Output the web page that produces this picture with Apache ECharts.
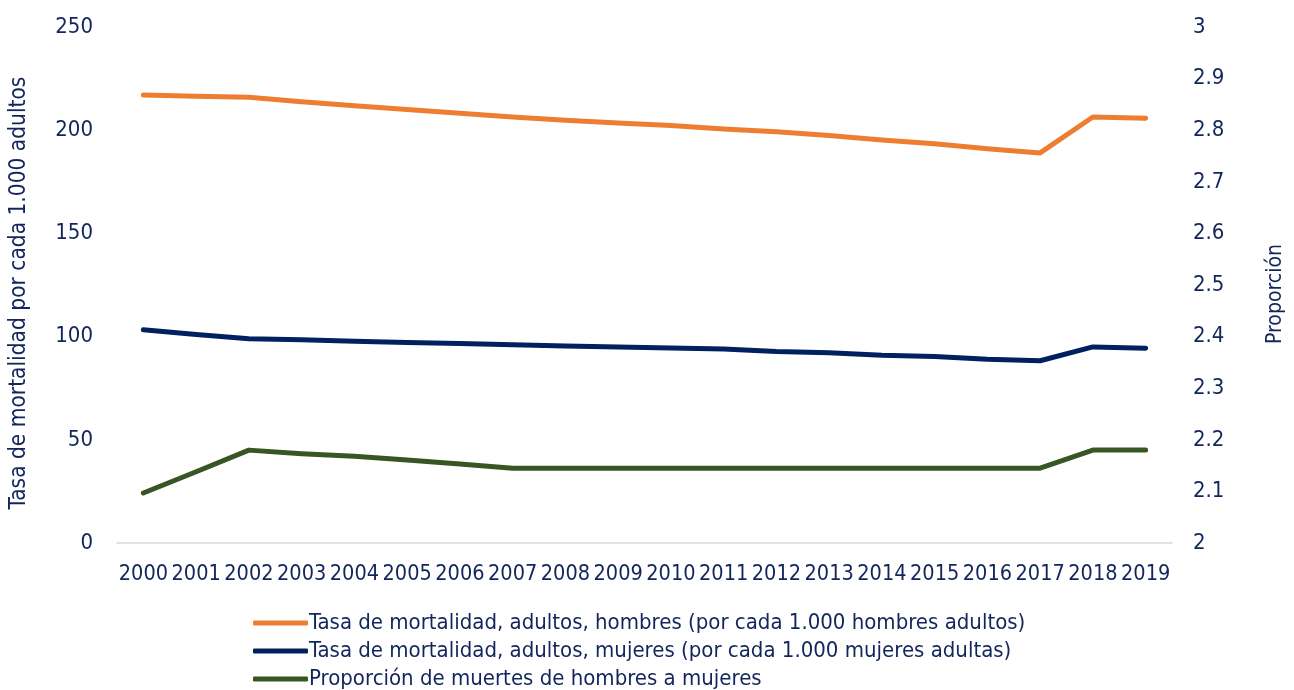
<!DOCTYPE html>
<html>
<head>
<meta charset="utf-8">
<script src="https://cdn.jsdelivr.net/npm/echarts@6/dist/echarts.min.js"></script>
<style>
html,body{margin:0;padding:0;background:#fff;}
#chart{width:1294px;height:690px;}
</style>
</head>
<body>
<div id="chart"></div>
<script>
const years = ['2000','2001','2002','2003','2004','2005','2006','2007','2008','2009','2010','2011','2012','2013','2014','2015','2016','2017','2018','2019'];
const hombres = [217.0,216.5,216.0,213.8,211.8,210.0,208.2,206.4,204.8,203.5,202.3,200.6,199.2,197.4,195.2,193.4,191.0,189.0,206.4,205.8];
const mujeres = [103.3,101.0,99.0,98.5,97.8,97.2,96.6,96.0,95.5,95.0,94.5,94.0,92.8,92.2,91.0,90.4,89.0,88.3,95.0,94.4];
const proporcion = [2.097,2.138,2.18,2.173,2.168,2.161,2.153,2.145,2.145,2.145,2.145,2.145,2.145,2.145,2.145,2.145,2.145,2.145,2.18,2.18];
const seriesNames = [
  'Tasa de mortalidad, adultos, hombres (por cada 1.000 hombres adultos)',
  'Tasa de mortalidad, adultos, mujeres (por cada 1.000 mujeres adultas)',
  'Proporción de muertes de hombres a mujeres'
];
const leftTitle = 'Tasa de mortalidad por cada 1.000 adultos';
const rightTitle = 'Proporción';

const FONT = '"DejaVu Sans Condensed", "DejaVu Sans", sans-serif';
const TXT = '#13265C';
const chart = echarts.init(document.getElementById('chart'));
chart.setOption({
  animation: false,
  textStyle: { fontFamily: FONT, color: TXT },
  grid: { left: 117, right: 115, top: 27, bottom: 147 },
  legend: {
    orient: 'vertical',
    left: 248,
    top: 607,
    height: 90,
    itemWidth: 55,
    itemHeight: 5,
    itemGap: 6,
    icon: 'roundRect',
    textStyle: { fontFamily: FONT, fontSize: 22, color: TXT, padding: [0,0,0,-4] },
    data: seriesNames
  },
  xAxis: {
    type: 'category',
    data: years,
    boundaryGap: true,
    axisLine: { lineStyle: { color: '#D9D9D9', width: 1.5 } },
    axisTick: { show: false },
    axisLabel: { color: TXT, fontSize: 21.5, fontFamily: FONT, margin: 20, interval: 0 }
  },
  yAxis: [
    {
      type: 'value', min: 0, max: 250, interval: 50,
      name: leftTitle, nameLocation: 'middle', nameGap: 86, nameRotate: 90,
      nameTextStyle: { fontSize: 22.5, color: TXT, fontFamily: FONT, padding: [0, 16, 0, 0] },
      axisLine: { show: false }, axisTick: { show: false }, splitLine: { show: false },
      axisLabel: { color: TXT, fontSize: 22, fontFamily: FONT, margin: 24 }
    },
    {
      type: 'value', min: 2, max: 3, interval: 0.1,
      name: rightTitle, nameLocation: 'middle', nameGap: 93, nameRotate: 90,
      nameTextStyle: { fontSize: 21, color: TXT, fontFamily: FONT, padding: [0, 18, 0, 0] },
      axisLine: { show: false }, axisTick: { show: false }, splitLine: { show: false },
      axisLabel: { color: TXT, fontSize: 22, fontFamily: FONT, margin: 21,
        formatter: v => String(Math.round(v*10)/10) }
    }
  ],
  series: [
    { name: seriesNames[0], type: 'line', data: hombres, yAxisIndex: 0, showSymbol: false, symbol: 'none',
      itemStyle: { color: '#ED7D31' }, lineStyle: { color: '#ED7D31', width: 5, cap: 'round', join: 'round' } },
    { name: seriesNames[1], type: 'line', data: mujeres, yAxisIndex: 0, showSymbol: false, symbol: 'none',
      itemStyle: { color: '#002060' }, lineStyle: { color: '#002060', width: 5, cap: 'round', join: 'round' } },
    { name: seriesNames[2], type: 'line', data: proporcion, yAxisIndex: 1, showSymbol: false, symbol: 'none',
      itemStyle: { color: '#375623' }, lineStyle: { color: '#375623', width: 5, cap: 'round', join: 'round' } }
  ]
});
</script>
</body>
</html>
